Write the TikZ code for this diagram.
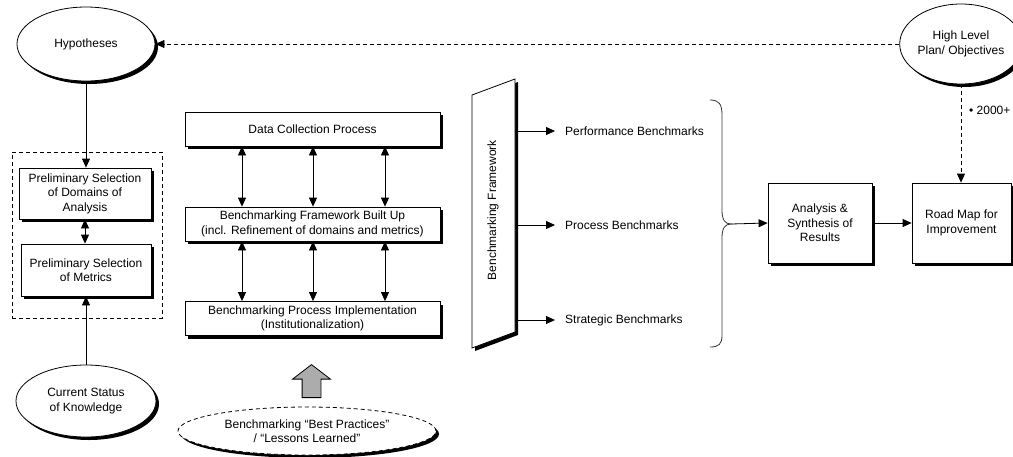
\documentclass[tikz,border=0pt]{standalone}
\usepackage{fontspec}
\setmainfont{Liberation Sans}
\usetikzlibrary{shapes.geometric,shapes.arrows,arrows.meta,shadows,calc}
\begin{document}
\begin{tikzpicture}[x=1pt,y=-1pt,
  font=\fontsize{12}{14.5}\selectfont,
  shad/.style={drop shadow={shadow xshift=3pt,shadow yshift=-3pt,fill=black,opacity=1}},
  box/.style={draw,line width=0.8pt,fill=white,shad,align=center,inner sep=0pt},
  ell/.style={ellipse,draw,line width=0.8pt,fill=white,shad,align=center,inner sep=0pt},
  arr/.style={-{Triangle[length=9pt,width=8pt]},line width=0.8pt},
  darr/.style={{Triangle[length=9pt,width=8pt]}-{Triangle[length=9pt,width=8pt]},line width=0.8pt},
  dsh/.style={dash pattern=on 4pt off 3pt},
  lbl/.style={inner sep=0pt,anchor=west}
]
\useasboundingbox (0,0) rectangle (1013,456);

% top ellipses
\node[ell,minimum width=138pt,minimum height=74pt] (hyp) at (86,44) {Hypotheses};
\node[ell,minimum width=104pt,minimum height=80pt] (hlp) at (961,44) {High Level\\Plan/ Objectives};
\draw[arr,dsh] (hlp) -- (hyp);

% left group
\node[draw,dsh,line width=0.8pt,minimum width=150pt,minimum height=166pt,inner sep=0pt] (grp) at (87,235) {};
\node[box,minimum width=132pt,minimum height=51pt] (dom) at (85,193.5) {Preliminary Selection\\of Domains of\\Analysis};
\node[box,minimum width=130pt,minimum height=52pt] (met) at (86,270) {Preliminary Selection\\of Metrics};
\node[ell,minimum width=140pt,minimum height=72pt] (cur) at (86,401) {Current Status\\of Knowledge};
\draw[arr] (hyp.south) -- (hyp.south |- dom.north);
\draw[darr] (dom.south) -- (dom.south |- met.north);
\draw[arr] (cur.north) -- (cur.north |- met.south);

% middle column
\node[box,minimum width=255pt,minimum height=34pt] (dcp) at (312.5,129) {Data Collection Process};
\node[box,minimum width=255pt,minimum height=34pt] (bfb) at (312.5,224) {Benchmarking Framework Built Up\\(incl. Refinement of domains and metrics)};
\node[box,minimum width=255pt,minimum height=34pt] (bpi) at (312.5,318.5) {Benchmarking Process Implementation\\(Institutionalization)};
\foreach \dx in {-70.5,0.5,72.5}{
  \draw[darr] ([xshift=\dx]dcp.south) -- ([xshift=\dx]bfb.north);
  \draw[darr] ([xshift=\dx]bfb.south) -- ([xshift=\dx]bpi.north);
}
\node[single arrow,draw,line width=0.8pt,fill=gray!65,rotate=90,minimum height=33pt,
      inner sep=9pt,single arrow head extend=9.5pt,single arrow tip angle=105,anchor=tail] (ga) at (311.5,398) {};
\node[ell,dsh,minimum width=258pt,minimum height=48pt] (bp) at (307,431) {Benchmarking “Best Practices”\\/ “Lessons Learned”};

% framework parallelogram
\draw[line width=0.8pt,fill=white,shad] (472,95) -- (515,79) -- (515,332) -- (472,348) -- cycle;
\node[rotate=90,inner sep=0pt] (bf) at (493,210) {Benchmarking Framework};
\coordinate (o1) at (515,131);
\coordinate (o2) at (515,225);
\coordinate (o3) at (515,320);
\node[lbl] (pb) at (565,131) {Performance Benchmarks};
\node[lbl] (prb) at (565,225) {Process Benchmarks};
\node[lbl] (sb) at (565,320) {Strategic Benchmarks};
\draw[arr] (o1) -- ([xshift=-10]pb.west);
\draw[arr] (o2) -- ([xshift=-10]prb.west);
\draw[arr] (o3) -- ([xshift=-10]sb.west);

% brace
\draw[line width=0.8pt,black!80] (710,100) .. controls (719,100) and (722,104) .. (722,115) -- (722,210)
  .. controls (722,220) and (725,224) .. (731,224) .. controls (725,224) and (722,228) .. (722,238)
  -- (722,335) .. controls (722,344) and (719,347) .. (710,347);
\coordinate (bt) at (731,224);

% right boxes
\node[box,minimum width=104pt,minimum height=80pt] (ana) at (820,223) {Analysis \&\\Synthesis of\\Results};
\node[box,minimum width=99pt,minimum height=80pt] (rm) at (961.5,223) {Road Map for\\Improvement};
\draw[arr] (bt) -- (ana.west);
\draw[arr] (ana) -- (rm);
\draw[arr,dsh] (hlp.south) -- (hlp.south |- rm.north);
\node[lbl] (yr) at (969,110) {• 2000+};
\end{tikzpicture}
\end{document}
